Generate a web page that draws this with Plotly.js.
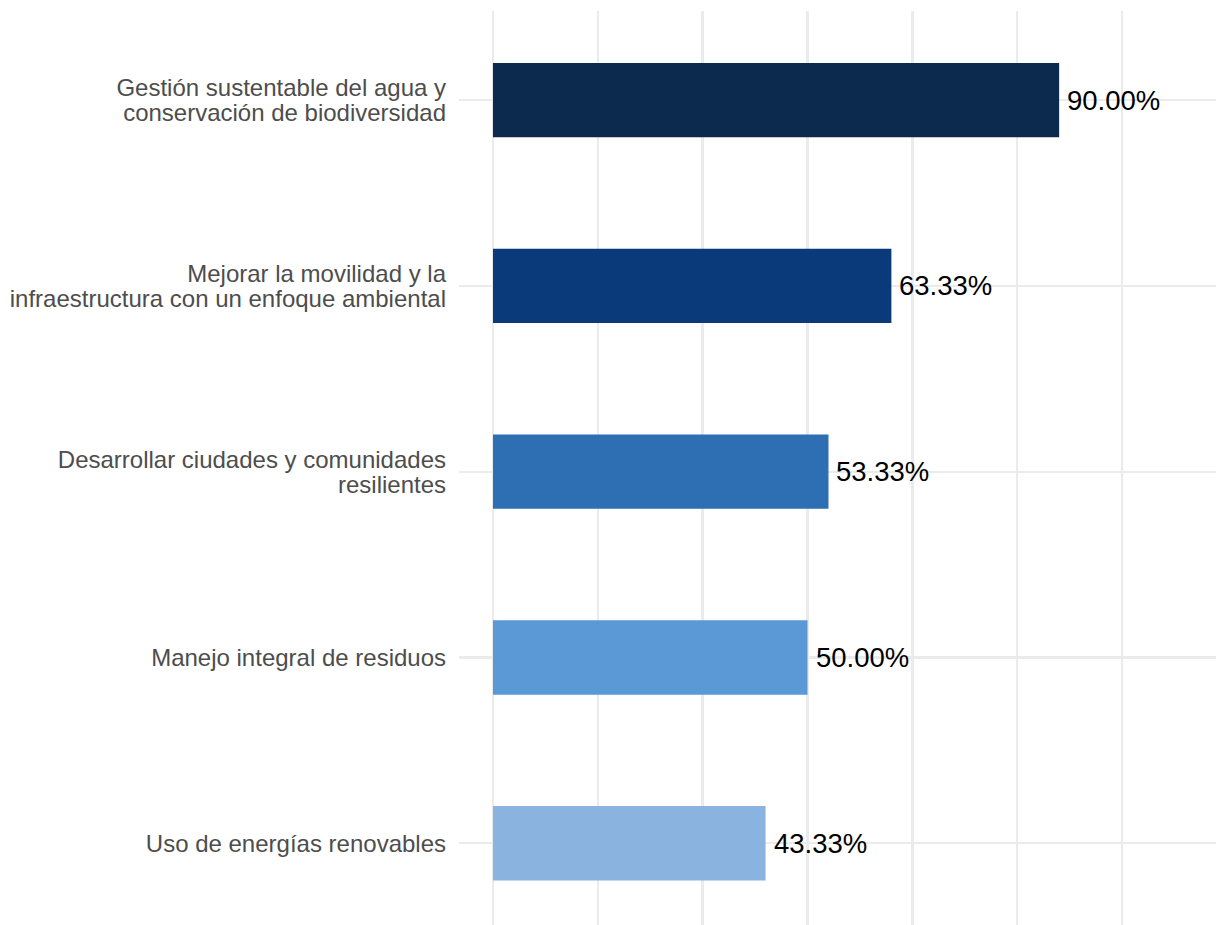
<!DOCTYPE html>
<html>
<head>
<meta charset="utf-8">
<script src="https://cdn.plot.ly/plotly-3.0.1.min.js"></script>
<style>html,body{margin:0;padding:0;background:#fff;}</style>
</head>
<body>
<div id="chart" style="width:1216px;height:925px;"></div>
<script>
const categories = [
  "Gestión sustentable del agua y<br>conservación de biodiversidad",
  "Mejorar la movilidad y la<br>infraestructura con un enfoque ambiental",
  "Desarrollar ciudades y comunidades<br>resilientes",
  "Manejo integral de residuos",
  "Uso de energías renovables"
];
const counts = [27, 19, 16, 15, 13];
const total = 30;
const labels = ["90.00%", "63.33%", "53.33%", "50.00%", "43.33%"];
const colors = ["#0c2a4d", "#0a3a7a", "#2e6fb4", "#5b98d6", "#8ab3e0"];

const trace = {
  type: "bar",
  orientation: "h",
  x: counts,
  y: categories,
  width: 0.4,
  marker: {color: colors, line: {width: 0}},
  hoverinfo: "skip"
};

const annotations = categories.map((c, i) => ({
  x: counts[i], y: c, xref: "x", yref: "y",
  text: labels[i], showarrow: false, xanchor: "left", yanchor: "middle",
  xshift: 6, font: {family: "Liberation Sans, Arial, sans-serif", size: 27.5, color: "#000000"}
}));

const layout = {
  width: 1216, height: 925,
  margin: {l: 459, r: 0, t: 11, b: 0, pad: 0},
  paper_bgcolor: "#ffffff", plot_bgcolor: "#ffffff",
  showlegend: false,
  bargap: 0.6,
  xaxis: {
    range: [-1.62, 34.48], dtick: 5, tick0: 0,
    showgrid: true, gridcolor: "#ebebeb", gridwidth: 2.4,
    zeroline: false, showticklabels: false, ticks: "", showline: false
  },
  yaxis: {
    type: "category", categoryorder: "array", categoryarray: categories,
    range: [4.44, -0.48],
    showgrid: true, gridcolor: "#ebebeb", gridwidth: 2.4,
    zeroline: false, ticks: "", showline: false,
    ticklabelstandoff: 12,
    tickfont: {family: "Liberation Sans, Arial, sans-serif", size: 24, color: "#4d4d4d"}
  },
  annotations: annotations
};

Plotly.newPlot("chart", [trace], layout, {displayModeBar: false, staticPlot: true}).then(() => {
  document.querySelectorAll(".ytick text").forEach(t => {
    const lines = t.querySelectorAll("tspan.line");
    if (lines.length > 1) {
      const b0 = t.getBBox();
      const c0 = b0.y + b0.height / 2;
      for (let k = 1; k < lines.length; k++) lines[k].setAttribute("dy", "1.05em");
      const b1 = t.getBBox();
      const c1 = b1.y + b1.height / 2;
      const prev = t.getAttribute("transform") || "";
      t.setAttribute("transform", prev + " translate(0," + (c0 - c1) + ")");
    }
  });
});
</script>
</body>
</html>
